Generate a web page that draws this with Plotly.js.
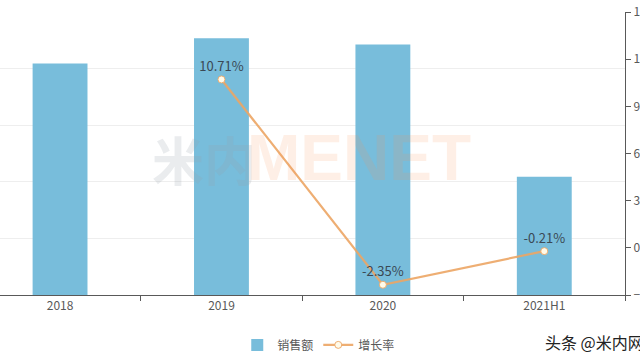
<!DOCTYPE html>
<html>
<head>
<meta charset="utf-8">
<script src="https://cdn.plot.ly/plotly-3.0.1.min.js"></script>
<style>html,body{margin:0;padding:0;background:#fff;}#chart{width:640px;height:360px;}</style>
</head>
<body>
<div id="chart"></div>
<script>
const categories = ["2018", "2019", "2020", "2021H1"];
const sales = [818, 907, 885, 418];
const growth = [null, 10.71, -2.35, -0.21];
const growthLabels = ["", "10.71%", "-2.35%", "-0.21%"];
const barName = "销售额";
const lineName = "增长率";

const FONT = '"Noto Sans CJK SC", "Noto Sans", sans-serif';

const traces = [
  {
    type: "bar",
    x: categories,
    y: sales,
    name: barName,
    marker: {color: "#78BDDB"},
    yaxis: "y"
  },
  {
    type: "scatter",
    mode: "lines+markers+text",
    x: categories,
    y: growth,
    name: lineName,
    yaxis: "y2",
    line: {color: "rgba(236,165,100,0.9)", width: 2.2},
    marker: {color: "#FFFBEA", size: 7, line: {color: "rgba(236,165,100,0.9)", width: 1}},
    text: growthLabels,
    textposition: "top center",
    textfont: {family: FONT, size: 13, color: "#3a4854"},
    cliponaxis: false
  }
];

const layout = {
  width: 640,
  height: 360,
  margin: {l: 0, r: 15, t: 12, b: 65, autoexpand: false},
  paper_bgcolor: "#ffffff",
  plot_bgcolor: "#ffffff",
  font: {family: FONT, size: 12, color: "#595959"},
  bargap: 0.66,
  showlegend: true,
  legend: {
    orientation: "h",
    x: 0.51, xanchor: "center",
    y: -0.125, yanchor: "top",
    font: {family: FONT, size: 12, color: "#595959"},
    itemwidth: 30,
    traceorder: "normal"
  },
  xaxis: {
    type: "category",
    range: [-0.372, 3.5],
    tickson: "boundaries",
    ticks: "outside",
    ticklen: 5,
    tickcolor: "#595959",
    showline: true,
    linecolor: "#595959",
    linewidth: 1,
    showgrid: false,
    tickfont: {family: FONT, size: 12, color: "#595959"},
    fixedrange: true
  },
  yaxis: {
    range: [0, 1000],
    dtick: 200,
    showticklabels: false,
    showgrid: true,
    gridcolor: "#eeeeee",
    zeroline: false,
    showline: false,
    ticks: ""
  },
  yaxis2: {
    overlaying: "y",
    side: "right",
    range: [-3, 15],
    dtick: 3,
    showgrid: false,
    zeroline: false,
    showline: true,
    linecolor: "#595959",
    linewidth: 1,
    ticks: "outside",
    ticklen: 5,
    tickcolor: "#595959",
    tickfont: {family: FONT, size: 12, color: "#595959"},
    automargin: false
  },
  annotations: [
    {
      xref: "paper", yref: "paper",
      x: 150/625, y: 0.484, xanchor: "left", yanchor: "middle",
      text: "<b>米内</b>", showarrow: false,
      font: {family: FONT, size: 52, color: "rgba(150,160,170,0.2)"}
    },
    {
      xref: "paper", yref: "paper",
      x: 245/625, y: 0.484, xanchor: "left", yanchor: "middle",
      text: "<b>MENET</b>", showarrow: false,
      font: {family: '"Liberation Sans", Arial, sans-serif', size: 64, color: "rgba(245,150,90,0.15)"}
    },
    {
      xref: "paper", yref: "paper",
      x: 543/625, y: -0.165, xanchor: "left", yanchor: "middle",
      text: "头条 @米内网", showarrow: false,
      font: {family: FONT, size: 16, color: "#222222"}
    }
  ]
};

Plotly.newPlot("chart", traces, layout, {displayModeBar: false, staticPlot: true});
</script>
</body>
</html>
